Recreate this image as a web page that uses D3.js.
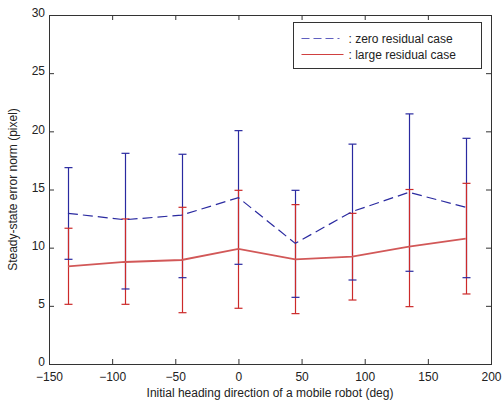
<!DOCTYPE html>
<html>
<head>
<meta charset="utf-8">
<script src="https://cdn.jsdelivr.net/npm/d3@7"></script>
<style>
  body { margin: 0; background: #fff; }
  text { font-family: "Liberation Sans", Arial, sans-serif; font-size: 12px; fill: #222; }
</style>
</head>
<body>
<div id="chart"></div>
<script>
var headings = [-135, -90, -45, 0, 45, 90, 135, 180];

var zeroMean  = [12.95, 12.4, 12.8, 14.3, 10.37, 13.1, 14.76, 13.47];
var zeroUpper = [16.88, 18.11, 18.03, 20.06, 14.93, 18.9, 21.5, 19.4];
var zeroLower = [9.0, 6.45, 7.42, 8.57, 5.73, 7.22, 7.97, 7.42];

var largeMean  = [8.4, 8.77, 8.94, 9.89, 9.0, 9.23, 10.09, 10.78];
var largeUpper = [11.67, 12.47, 13.47, 14.93, 13.7, 12.95, 15.0, 15.53];
var largeLower = [5.13, 5.13, 4.41, 4.79, 4.33, 5.5, 4.93, 6.02];

var xTicks = [-150, -100, -50, 0, 50, 100, 150, 200];
var yTicks = [0, 5, 10, 15, 20, 25, 30];

var width = 503, height = 403;
var margin = {left: 49, right: 12, top: 15, bottom: 39};

var svg = d3.select('#chart')
  .append('svg')
  .attr('width', width)
  .attr('height', height);

var x = d3.scaleLinear().domain([-150, 200]).range([margin.left, width - margin.right]);
var y = d3.scaleLinear().domain([0, 30]).range([height - margin.bottom, margin.top]);

var blue = '#2a2aa0', red = '#cc2a2a';

// axes, ticks pointing inward like matlab
var axisColor = '#333';
svg.append('g')
  .attr('transform', 'translate(0,' + y(0) + ')')
  .call(d3.axisBottom(x).tickValues(xTicks).tickSize(-5).tickPadding(8).tickFormat(d3.format('d')))
  .call(function(g){ g.select('.domain').remove(); });
svg.append('g')
  .attr('transform', 'translate(' + x(-150) + ',0)')
  .call(d3.axisLeft(y).tickValues(yTicks).tickSize(-5).tickPadding(4))
  .call(function(g){ g.select('.domain').remove(); })
  .call(function(g){ g.selectAll('.tick text').attr('dy', '0.15em'); });
svg.append('g')
  .attr('transform', 'translate(0,' + y(30) + ')')
  .call(d3.axisTop(x).tickValues(xTicks).tickSize(-5).tickFormat(''))
  .call(function(g){ g.select('.domain').remove(); });
svg.append('g')
  .attr('transform', 'translate(' + x(200) + ',0)')
  .call(d3.axisRight(y).tickValues(yTicks).tickSize(-5).tickFormat(''))
  .call(function(g){ g.select('.domain').remove(); });

svg.selectAll('.tick line').attr('stroke', axisColor);
svg.selectAll('.tick text').style('font-size', '12px').attr('fill', '#222');

svg.append('rect')
  .attr('x', x(-150) + 0.5)
  .attr('y', y(30) + 0.5)
  .attr('width', x(200) - x(-150))
  .attr('height', y(0) - y(30))
  .attr('fill', 'none')
  .attr('stroke', axisColor);

// error bars
function bars(upper, lower, colour) {
  var g = svg.append('g').attr('stroke', colour).attr('stroke-width', 1.2);
  headings.forEach(function(h, i) {
    var cx = Math.round(x(h)) + 0.5;
    g.append('line').attr('x1', cx).attr('x2', cx).attr('y1', y(upper[i])).attr('y2', y(lower[i]));
  });
  return g;
}
function caps(upper, lower, colour) {
  var g = svg.append('g').attr('stroke', colour).attr('stroke-width', 1.2);
  headings.forEach(function(h, i) {
    var cx = Math.round(x(h)) + 0.5;
    [upper[i], lower[i]].forEach(function(v) {
      g.append('line').attr('x1', cx - 4).attr('x2', cx + 4).attr('y1', y(v)).attr('y2', y(v));
    });
  });
}

bars(zeroUpper, zeroLower, blue);
bars(largeUpper, largeLower, red);
caps(largeUpper, largeLower, red);
caps(zeroUpper, zeroLower, blue);

var line = d3.line()
  .x(function(d){ return x(d[0]); })
  .y(function(d){ return y(d[1]); });

svg.append('path')
  .datum(d3.zip(headings, zeroMean))
  .attr('d', line)
  .attr('fill', 'none')
  .attr('stroke', blue)
  .attr('stroke-width', 1.2)
  .attr('stroke-dasharray', '10,5');

svg.append('path')
  .datum(d3.zip(headings, largeMean))
  .attr('d', line)
  .attr('fill', 'none')
  .attr('stroke', '#d25858')
  .attr('stroke-width', 1.8);

// legend
var lg = svg.append('g').attr('transform', 'translate(293.5,22.5)');
lg.append('rect').attr('width', 188).attr('height', 46).attr('fill', '#fff').attr('stroke', axisColor);
lg.append('line').attr('x1', 8).attr('x2', 50).attr('y1', 16).attr('y2', 16)
  .attr('stroke', '#6060c0').attr('stroke-width', 1.2).attr('stroke-dasharray', '8,4,8,4,8,4,2,4');
lg.append('line').attr('x1', 8).attr('x2', 50).attr('y1', 32).attr('y2', 32)
  .attr('stroke', '#d04040').attr('stroke-width', 1.2);
lg.append('text').attr('x', 55).attr('y', 20).text(': zero residual case');
lg.append('text').attr('x', 55).attr('y', 36).text(': large residual case');

// axis titles
svg.append('text')
  .attr('x', (x(-150) + x(200)) / 2)
  .attr('y', 397)
  .attr('text-anchor', 'middle')
  .text('Initial heading direction of a mobile robot (deg)');

svg.append('text')
  .attr('transform', 'translate(17,' + (y(15)) + ') rotate(-90)')
  .attr('text-anchor', 'middle')
  .text('Steady-state error norm (pixel)');
</script>
</body>
</html>
